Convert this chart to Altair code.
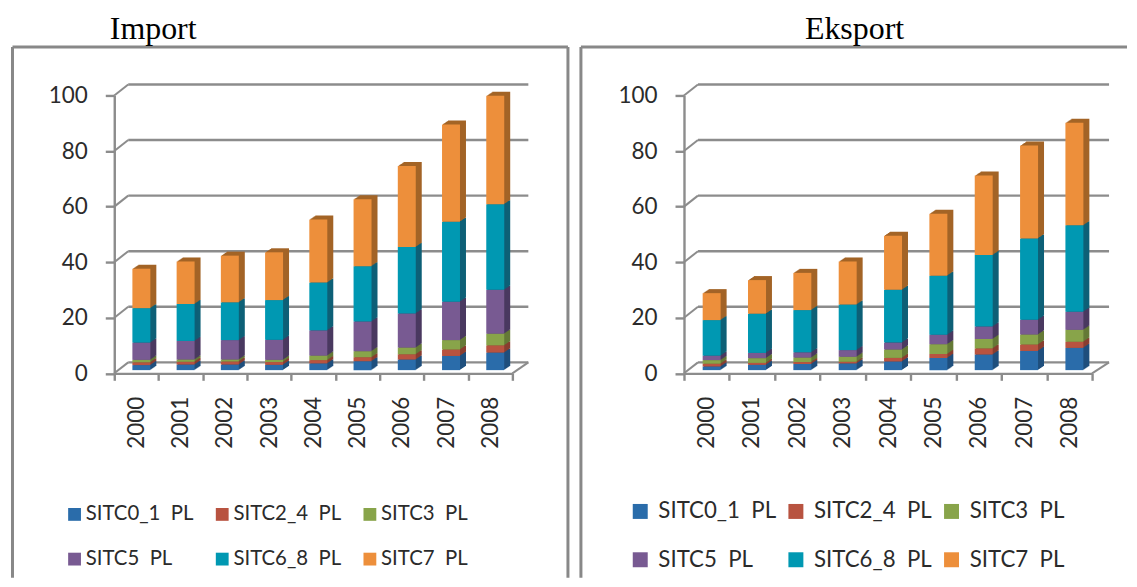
import altair as alt
import pandas as pd

years = ["2000","2001","2002","2003","2004","2005","2006","2007","2008"]
series = ["SITC0_1\u00a0\u00a0PL","SITC2_4\u00a0\u00a0PL","SITC3\u00a0\u00a0PL","SITC5\u00a0\u00a0PL","SITC6_8\u00a0\u00a0PL","SITC7\u00a0\u00a0PL"]
colors = ["#2A6CAA","#B85340","#88A44A","#785A92","#0098B2","#ED8F3B"]
darks = ["#1F4F7D","#893E30","#657A37","#4A3960","#0E6077","#A36427"]

imp_0_1 = [1.8,2.0,2.0,1.9,2.4,3.2,3.8,5.1,6.3]
imp_2_4 = [1.0,1.0,1.1,1.0,1.2,1.4,1.9,2.3,2.6]
imp_3 = [0.9,0.8,0.7,0.8,1.6,2.2,2.4,3.4,4.2]
imp_5 = [6.2,6.7,7.0,7.2,9.1,10.7,12.3,13.8,15.8]
imp_6_8 = [12.4,13.3,13.6,14.3,17.2,19.9,23.9,28.8,30.8]
imp_7 = [14.2,15.3,16.8,17.2,22.7,24.1,29.2,35.0,39.0]

eks_0_1 = [1.3,1.9,2.2,2.4,3.1,4.4,5.6,6.9,8.0]
eks_2_4 = [1.0,0.7,0.7,0.6,1.3,1.4,2.2,2.3,2.2]
eks_3 = [1.3,1.7,1.6,1.8,3.0,3.5,3.4,3.6,4.3]
eks_5 = [1.6,1.9,1.9,2.4,2.5,3.4,4.5,5.3,6.5]
eks_6_8 = [12.8,14.1,15.2,16.4,19.0,21.3,25.7,29.3,31.1]
eks_7 = [9.7,12.1,13.4,15.5,19.5,22.3,28.6,33.4,36.9]

grid_values = [0,20,40,60,80,100]
GREY = "#8C8C8C"
TXT = "#2b2b2b"
FONT = "Lato"
PH = 278.5      # plot height
TOP = 48.5      # frame top above the plot
BOTTOM = 205    # frame bottom below the plot


def table(cols):
    rows = []
    for i, y in enumerate(years):
        base = 0.0
        for s, col, dk in zip(series, cols, darks):
            rows.append({"year": y, "series": s, "y0": base, "y1": base + col[i], "dark": dk})
            base += col[i]
    return pd.DataFrame(rows)


def panel(cols, title, title_dx, PW, fl, fr, legend_x, legend_y, col_pad, row_pad,
          right_border, sym_size, leg_font, leg_offset, back_end):
    df = table(cols)
    y_scale = alt.Scale(domain=[0, 100], nice=False)
    x_scale = alt.Scale(domain=years, paddingInner=0, paddingOuter=0)
    depth = 11 / (PH / 100)
    g = pd.DataFrame({"v": grid_values})
    g["back"] = g["v"] + depth

    y_axis = alt.Axis(
        values=grid_values, title=None, grid=False, orient="left",
        domainColor=GREY, domainWidth=2.4, tickColor=GREY, tickWidth=2.4, tickSize=9,
        labelFont=FONT, labelFontSize=22.5, labelColor=TXT, labelPadding=18)
    x_axis = alt.Axis(
        title=None, orient="bottom", tickBand="extent", labelAngle=270,
        domainColor=GREY, domainWidth=2.4, tickColor=GREY, tickWidth=2.4, tickSize=7,
        labelFont=FONT, labelFontSize=22.5, labelColor=TXT, labelPadding=16,
        labelBaseline="middle", labelAlign="right")

    Y = lambda f: alt.Y(f, scale=y_scale, axis=y_axis)
    X = alt.X("year:N", scale=x_scale, sort=years, axis=x_axis)

    grid = alt.Chart(g).mark_rule(color=GREY, strokeWidth=2.4).encode(
        x=alt.value(14), x2=alt.value(PW + back_end), y=Y("back:Q"))
    diag = alt.Chart(g).mark_rule(color=GREY, strokeWidth=2).encode(
        x=alt.value(0), x2=alt.value(14), y=Y("v:Q"), y2="back:Q")
    floor = alt.Chart(g[g.v == 0]).mark_rule(color=GREY, strokeWidth=2).encode(
        x=alt.value(PW), x2=alt.value(PW + back_end), y=Y("v:Q"), y2="back:Q")

    layers = [grid, diag, floor]
    for d in range(6, 0, -1):
        layers.append(alt.Chart(df).mark_bar(
            size=18, xOffset=5 + d, x2Offset=5 + d,
            yOffset=-3.2 - d * 0.67, y2Offset=-3.2 - d * 0.67).encode(
            x=X, y=Y("y0:Q"), y2="y1:Q",
            color=alt.Color("dark:N", scale=None, legend=None)))

    front = alt.Chart(df).mark_bar(
        size=18, xOffset=5, x2Offset=5, yOffset=-3.2, y2Offset=-3.2).encode(
        x=X, y=Y("y0:Q"), y2="y1:Q",
        color=alt.Color("series:N", scale=alt.Scale(domain=series, range=colors), legend=alt.Legend(
            title=None, orient="none", legendX=legend_x, legendY=legend_y, columns=3,
            direction="horizontal",
            symbolType="square", symbolSize=sym_size, symbolStrokeWidth=0, symbolOpacity=1,
            labelFont=FONT, labelFontSize=leg_font, labelColor=TXT, labelLimit=200,
            columnPadding=col_pad, rowPadding=row_pad, labelOffset=leg_offset)))
    layers.append(front)

    frame_src = pd.DataFrame({"f": [0]})
    layers.append(alt.Chart(frame_src).mark_rule(color="#888888", strokeWidth=3).encode(
        x=alt.value(fl), y=alt.value(-TOP), y2=alt.value(PH + BOTTOM)))
    layers.append(alt.Chart(frame_src).mark_rule(color="#888888", strokeWidth=3).encode(
        x=alt.value(fl), x2=alt.value(fr), y=alt.value(-TOP)))
    if right_border:
        layers.append(alt.Chart(frame_src).mark_rule(color="#888888", strokeWidth=3).encode(
            x=alt.value(fr), y=alt.value(-TOP), y2=alt.value(PH + BOTTOM)))

    return alt.layer(*layers).resolve_scale(color="independent").properties(
        width=PW, height=PH,
        title=alt.TitleParams(title, anchor="start", dx=title_dx, font="Liberation Serif",
                              fontSize=32, fontWeight="normal", color="#000000", offset=0))


left = panel([imp_0_1, imp_2_4, imp_3, imp_5, imp_6_8, imp_7], "Import", 99, 399, -102, 454.7,
             -50, 409.5, 18, 24, True, 165, 20.4, 1, 16)
right = panel([eks_0_1, eks_2_4, eks_3, eks_5, eks_6_8, eks_7], "Eksport", 226, 409, -103.3, 444,
              -55, 405.5, 8, 25.7, False, 225, 22.3, 7, 17)

chart = alt.hconcat(left, right, spacing=9, padding={"left": 2.5, "top": 4, "right": 0, "bottom": 0}).configure_view(stroke=None)
chart.save("out.html", embed_options={"renderer": "svg", "actions": False})
